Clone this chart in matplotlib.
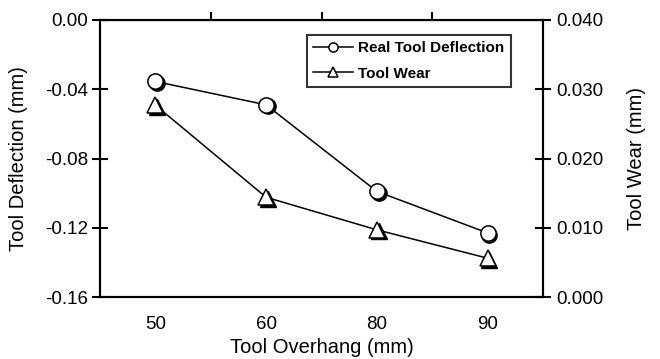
import matplotlib
matplotlib.use("Agg")
import matplotlib.pyplot as plt
import matplotlib.transforms as mtransforms

plt.rcParams['font.family'] = ['Liberation Sans', 'DejaVu Sans']

overhang = ["50", "60", "80", "90"]
deflection = [-0.0355, -0.049, -0.099, -0.123]
wear = [0.0277, 0.0144, 0.0097, 0.0056]

fig = plt.figure(figsize=(6.6, 3.59), dpi=100)
ax = fig.add_axes([100/660, 1-297/359, 443/660, 277/359])
ax2 = ax.twinx()

x = list(range(1, len(overhang)+1))
shadow = mtransforms.ScaledTranslation(1.2/72, -1.2/72, fig.dpi_scale_trans)

# shadows
ax.plot(x, deflection, linestyle='none', marker='o', ms=11, mfc='black', mec='black',
        transform=ax.transData + shadow, zorder=2)
ax2.plot(x, wear, linestyle='none', marker='^', ms=11, mfc='black', mec='black',
         transform=ax2.transData + shadow, zorder=2)

l1, = ax.plot(x, deflection, color='black', lw=1.1, marker='o', ms=11, mfc='white',
              mec='black', mew=1.1, zorder=3, label='Real Tool Deflection')
l2, = ax2.plot(x, wear, color='black', lw=1.1, marker='^', ms=11, mfc='white',
               mec='black', mew=1.1, zorder=3, label='Tool Wear')

ax.set_xlim(0.5, 4.5)
ax.set_ylim(-0.16, 0.0)
ax2.set_ylim(0.0, 0.04)
ax.set_xticks(x)
ax.set_xticklabels(overhang)
ax.tick_params(axis='x', length=0, labelsize=13.5, pad=14)
ax.set_yticks([0.0, -0.04, -0.08, -0.12, -0.16])
ax.set_yticklabels(["0.00", "-0.04", "-0.08", "-0.12", "-0.16"])
ax.tick_params(axis='y', direction='inout', length=11, width=1.5, labelsize=13.5, pad=3)
ax2.set_yticks([0.0, 0.01, 0.02, 0.03, 0.04])
ax2.set_yticklabels(["0.000", "0.010", "0.020", "0.030", "0.040"])
ax2.tick_params(axis='y', direction='inout', length=11, width=1.5, labelsize=13.5, pad=4)

for a in (ax, ax2):
    for s in a.spines.values():
        s.set_linewidth(1.5)

axt = ax.secondary_xaxis('top')
axt.set_xticks([1.5, 2.5, 3.5])
axt.set_xticklabels([])
axt.tick_params(axis='x', direction='out', length=6, width=1.5)

ax.set_xlabel("Tool Overhang (mm)", fontsize=14.5, labelpad=3)
ax.set_ylabel("Tool Deflection (mm)", fontsize=14.5, labelpad=12)
ax2.set_ylabel("Tool Wear (mm)", fontsize=14.5, labelpad=17)

leg = ax.legend([l1, l2], ['Real Tool Deflection', 'Tool Wear'],
                loc='upper left', bbox_to_anchor=(207/443, 1-15/277),
                frameon=True, fancybox=False, edgecolor='black',
                prop={'weight': 'bold', 'size': 11}, markerscale=0.6,
                handlelength=2.6, borderpad=0.4, labelspacing=0.75, handletextpad=0.35,
                borderaxespad=0)
leg.get_frame().set_linewidth(1.5)

fig.savefig("out.png", dpi=100)
